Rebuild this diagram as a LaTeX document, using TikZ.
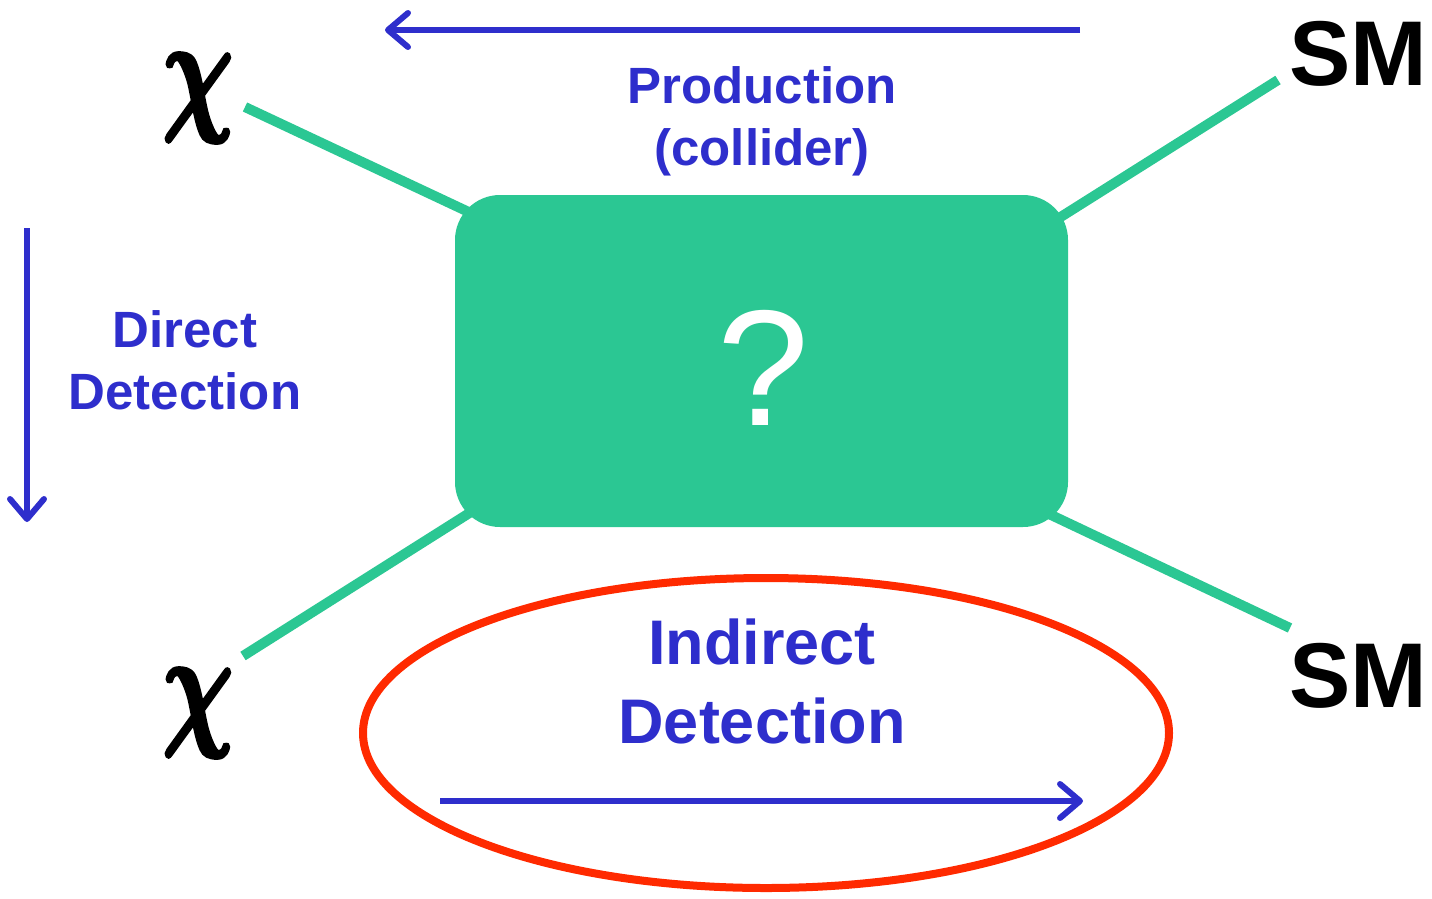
\documentclass[tikz,border=0pt]{standalone}
\usepackage{amsmath,amssymb,bm}
\usepackage{fontspec}
\setmainfont{Liberation Sans}
\usetikzlibrary{arrows.meta,shapes.geometric}
\definecolor{teal1}{HTML}{2BC793}
\definecolor{blue1}{HTML}{2E2ECC}
\definecolor{red1}{HTML}{FF2A00}
\newcommand{\heavychi}{\special{pdf:literal 2 Tr 0.35 w}$\bm{\chi}$\special{pdf:literal 0 Tr}}
\tikzset{
  leg/.style={teal1, line width=10pt},
  flow/.style={blue1, line width=6pt, -{Straight Barb[length=20pt,width=34pt,line width=6pt,round]}},
  lbl/.style={blue1, font=\bfseries\fontsize{51}{62}\selectfont, align=center, inner sep=0pt},
  sm/.style={font=\bfseries\fontsize{92}{92}\selectfont, inner sep=0pt, anchor=base},
  chi/.style={inner sep=0pt, anchor=base, xscale=9.8, yscale=13.6, transform shape},
}
\begin{document}
\begin{tikzpicture}[x=1pt,y=-1pt]
\useasboundingbox (0,0) rectangle (1432,898);
% legs
\coordinate (c1) at (245,107);
\coordinate (c2) at (1278,80);
\coordinate (c3) at (243,656);
\coordinate (c4) at (1290,628);
\coordinate (b1) at (490,222);
\coordinate (b2) at (1040,230);
\coordinate (b3) at (490,500);
\coordinate (b4) at (1030,505);
\draw[leg] (c1) -- (b1);
\draw[leg] (c2) -- (b2);
\draw[leg] (c3) -- (b3);
\draw[leg] (c4) -- (b4);
% box
\node[fill=teal1, rounded corners=45pt, minimum width=613pt, minimum height=332pt, inner sep=0pt] (box) at (761.5,361) {};
\node[white, font=\fontsize{165}{165}\selectfont, inner sep=0pt, anchor=base] (q) at (763,425) {?};
% particles
\node[chi] (chi1) at (198,115) {\heavychi};
\node[chi] (chi2) at (198,730) {\heavychi};
\node[sm] (sm1) at (1358,85) {SM};
\node[sm] (sm2) at (1358,707) {SM};
% labels
\node[lbl] (prod) at (762,121) {Production\\(collider)};
\node[lbl] (dd) at (185,360) {Direct\\Detection};
\node[lbl, font=\bfseries\fontsize{63}{79}\selectfont] (id) at (762,681) {Indirect\\Detection};
% arrows
\coordinate (a1s) at (1080,30);
\coordinate (a1e) at (385,30);
\coordinate (a2s) at (27,228);
\coordinate (a2e) at (27,522);
\coordinate (a3s) at (440,801);
\coordinate (a3e) at (1083,801);
\draw[flow] (a1s) -- (a1e);
\draw[flow] (a2s) -- (a2e);
\draw[flow] (a3s) -- (a3e);
% ellipse
\node[draw=red1, line width=8pt, ellipse, minimum width=806pt, minimum height=310pt, inner sep=0pt] (ell) at (766,733) {};
\end{tikzpicture}
\end{document}
